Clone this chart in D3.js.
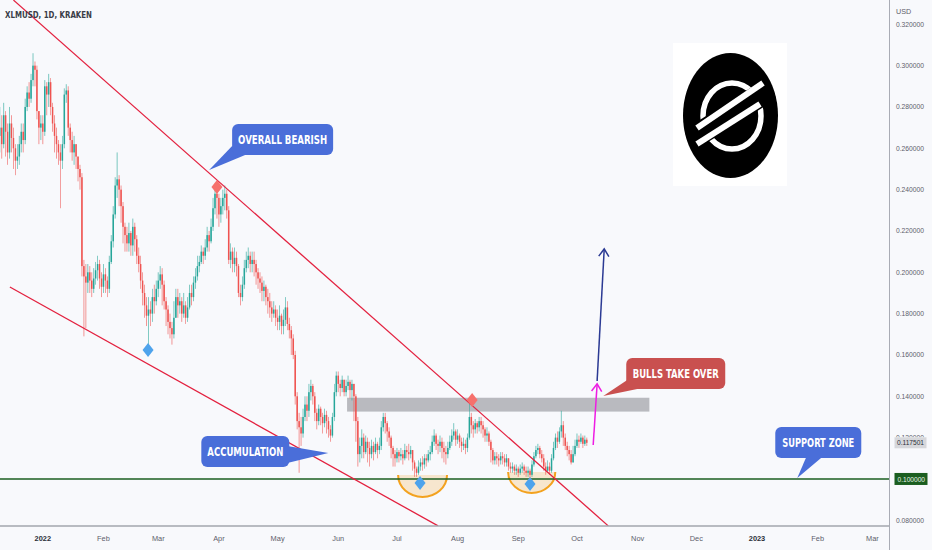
<!DOCTYPE html>
<html><head><meta charset="utf-8">
<script src="https://cdn.jsdelivr.net/npm/d3@7"></script>
<style>html,body{margin:0;padding:0;background:#f8f9fc;overflow:hidden}svg{display:block}</style>
</head><body><svg id="c" width="932" height="550"></svg>
<script>
// ---------- DATA (prices in 1/1000 USD) ----------
const startDate = "2021-12-10";
const firstOpen = 266;
const closeMil = [
270,262,276,268,258,272,265,260,254,256,
262,268,264,280,287,284,293,300,298,278,
270,272,268,290,286,292,280,272,266,262,
258,254,262,286,288,270,264,258,262,256,
250,246,203,198,195,200,196,192,197,201,
204,197,193,199,196,192,205,215,228,242,
245,240,232,222,218,214,219,213,222,216,
208,204,196,190,184,179,182,180,188,186,
192,196,199,194,186,182,176,173,170,178,
188,184,186,180,184,178,183,190,188,195,
198,203,205,210,208,212,218,215,222,231,
238,236,228,232,236,238,230,206,210,204,
207,203,190,188,194,202,206,208,204,206,
204,200,197,195,191,193,188,186,183,180,
182,178,176,179,174,177,183,175,172,168,
160,140,128,125,122,130,136,133,142,145,
140,132,128,134,130,127,131,128,124,121,
130,142,150,146,144,148,142,145,147,143,
146,140,128,112,116,120,113,118,115,112,
116,113,117,114,116,125,130,127,123,120,
115,112,110,113,111,112,110,114,113,112,
114,108,105,103,106,108,107,110,109,112,
113,118,121,117,116,118,115,113,112,115,
118,121,123,119,121,118,116,117,115,120,
130,126,124,127,125,128,126,124,121,122,
118,114,109,111,110,109,111,110,108,110,
106,105,106,104,105,103,105,106,104,103,
104,102,107,111,114,115,112,110,106,104,
106,104,110,115,120,118,123,126,120,116,
114,112,108,112,116,119,118,120,117,119,
117.501];
const highMil = [
280,276,282,278,272,280,276,270,262,262,
266,272,272,284,290,292,296,306,302,300,
278,276,276,293,292,296,294,282,276,270,
264,262,266,289,291,290,272,268,266,262,
256,252,248,206,204,204,203,200,202,205,
208,206,200,204,202,198,208,218,232,246,
258,247,242,234,224,222,224,220,226,224,
218,212,208,200,194,188,188,186,192,194,
196,200,203,202,196,188,184,180,176,186,
192,192,190,188,190,186,188,194,194,198,
202,208,208,213,212,216,222,220,226,236,
242,243,238,236,240,242,240,232,214,212,
212,210,204,194,198,206,210,212,210,210,
210,206,202,200,198,196,194,192,190,186,
186,184,182,184,180,182,188,186,178,174,
170,162,142,132,130,134,140,140,146,148,
146,142,134,136,135,132,134,133,130,126,
132,146,152,152,148,150,148,148,150,148,
148,146,141,130,120,124,122,121,120,118,
119,118,120,118,120,128,132,132,128,125,
121,116,114,115,114,115,114,117,116,117,
116,114,109,106,109,110,111,112,112,114,
116,121,124,122,119,121,120,118,116,118,
121,124,127,124,124,122,120,120,119,122,
137,132,128,129,128,130,130,128,125,125,
123,119,115,113,113,112,113,113,112,112,
110,108,108,107,107,106,107,108,107,106,
106,105,109,113,116,117,116,114,112,108,
109,108,112,118,122,123,125,133,128,122,
118,116,114,116,119,122,121,122,121,121,
120];
const lowMil = [
258,255,260,256,252,255,258,250,247,250,
252,258,258,262,278,280,282,290,290,274,
262,264,262,266,276,280,276,268,258,255,
252,231,250,260,282,266,258,254,252,250,
244,240,198,169,173,190,190,188,190,194,
196,192,188,190,190,188,190,204,212,226,
236,232,224,214,210,210,210,208,208,210,
204,200,192,184,178,174,163,174,176,180,
184,188,192,184,182,174,170,168,165,168,
180,178,180,176,178,175,176,182,184,186,
192,196,200,204,204,206,210,210,214,220,
228,226,222,224,228,230,226,204,202,200,
200,198,188,184,186,192,200,202,200,200,
198,194,192,190,186,186,184,180,178,176,
178,174,172,172,170,170,174,172,168,160,
158,136,124,103,116,120,128,128,130,138,
136,128,124,126,126,122,125,122,120,118,
120,128,140,142,140,142,140,140,143,139,
138,128,118,106,108,110,110,112,108,106,
110,109,112,110,112,114,123,122,118,116,
110,106,106,108,108,109,107,109,110,109,
110,104,101,101,102,104,104,105,106,108,
109,112,116,114,112,113,110,108,107,110,
114,116,119,116,117,115,113,114,112,113,
119,122,120,122,122,123,122,120,118,118,
116,108,107,107,107,106,107,107,106,106,
104,103,103,102,102,101,102,103,102,101,
101,100,101,106,110,112,110,108,104,102,
103,102,103,109,114,115,117,120,116,114,
111,109,107,108,111,115,115,117,115,116,
116];

const priceTicks = [0.08,0.10,0.12,0.14,0.16,0.18,0.20,0.22,0.24,0.26,0.28,0.30,0.32];
const monthTicks = [["2022-01-01","2022"],["2022-02-01","Feb"],["2022-03-01","Mar"],["2022-04-01","Apr"],
  ["2022-05-01","May"],["2022-06-01","Jun"],["2022-07-01","Jul"],["2022-08-01","Aug"],["2022-09-01","Sep"],
  ["2022-10-01","Oct"],["2022-11-01","Nov"],["2022-12-01","Dec"],["2023-01-01","2023"],["2023-02-01","Feb"],["2023-03-01","Mar"]];
const yearLabels = ["2022","2023"];
const trendLines = [
  [["2021-12-17T00:00Z",0.3317],["2022-10-17T00:00Z",0.0773]],
  [["2021-12-15T04:00Z",0.1929],["2022-07-22T00:00Z",0.0773]]
];
const supportPrice = 0.10;
const lastPrice = 0.117501;
const zone = [["2022-06-05T12:00Z",0.1393],["2022-11-07T00:00Z",0.1326]];
const blueMarks = [["2022-02-23T19:00Z",0.1624],["2022-07-12T19:00Z",0.0980],["2022-09-07T00:00Z",0.0976]];
const redMarks = [["2022-03-31T00:00Z",0.2413],["2022-08-08T10:00Z",0.1382]];
const cups = [
  [["2022-07-01T14:00Z",0.1019],["2022-07-26T14:00Z",0.0913]],
  [["2022-08-26T19:00Z",0.1034],["2022-09-19T22:00Z",0.0932]]
];
const arrowsData = [
  {from:["2022-10-09T07:00Z",0.1164], to:["2022-10-11T07:00Z",0.1460], color:"#ee1de3"},
  {from:["2022-10-11T07:00Z",0.1474], to:["2022-10-14T22:00Z",0.2113], color:"#2b3a94"}
];
const callouts = [
  {text:"OVERALL BEARISH", at:["2022-03-27T00:00Z",0.2495], color:"#4a6ed9"},
  {text:"ACCUMULATION", at:["2022-05-26T22:00Z",0.1126], color:"#4a6ed9"},
  {text:"BULLS TAKE OVER", at:["2022-10-14T10:00Z",0.1402], color:"#c9504f"},
  {text:"SUPPORT ZONE", at:["2023-01-21T14:00Z",0.1005], color:"#4a6ed9"}
];

// ---------- CHART ----------
const W = 932, H = 550, plotR = 889, plotB = 526;
const svg = d3.select("#c");
svg.append("rect").attr("width",W).attr("height",H).attr("fill","#f8f9fc");

const x = d3.scaleUtc().domain([new Date("2022-01-01T00:00Z"), new Date("2023-01-01T00:00Z")]).range([42.8, 757]);
const y = d3.scaleLinear().domain([0.08, 0.32]).range([520.3, 24.3]);
const P = d => [x(new Date(d[0])), y(d[1])];

const defs = svg.append("defs");
defs.append("clipPath").attr("id","plot").append("rect").attr("x",0).attr("y",0).attr("width",plotR).attr("height",plotB);
defs.append("clipPath").attr("id","logoClip").append("ellipse").attr("cx",730.5).attr("cy",115.5).attr("rx",47).attr("ry",62);
defs.append("clipPath").attr("id","tickClip").append("rect").attr("x",890).attr("y",0).attr("width",42).attr("height",y(lastPrice)-5.5);
const g = svg.append("g").attr("clip-path","url(#plot)");

// logo
const logo = g.append("g");
logo.append("rect").attr("x",673).attr("y",43).attr("width",114).attr("height",143).attr("fill","#ffffff");
logo.append("ellipse").attr("cx",730.5).attr("cy",115.5).attr("rx",47.5).attr("ry",62.5).attr("fill","#000");
const sym = logo.append("g").attr("clip-path","url(#logoClip)");
sym.append("ellipse").attr("cx",732).attr("cy",116).attr("rx",29).attr("ry",33).attr("fill","none").attr("stroke","#fff").attr("stroke-width",5.5);
sym.append("line").attr("x1",688).attr("y1",141).attr("x2",772).attr("y2",88).attr("stroke","#000").attr("stroke-width",23);
sym.append("line").attr("x1",697).attr("y1",128).attr("x2",763).attr("y2",83).attr("stroke","#fff").attr("stroke-width",6);
sym.append("line").attr("x1",697).attr("y1",144).attr("x2",760).attr("y2",104).attr("stroke","#fff").attr("stroke-width",6);

// resistance zone
g.append("rect")
  .attr("x", x(new Date(zone[0][0]))).attr("y", y(zone[0][1]))
  .attr("width", x(new Date(zone[1][0])) - x(new Date(zone[0][0])))
  .attr("height", y(zone[1][1]) - y(zone[0][1]))
  .attr("fill","#b9babf");

// cups
cups.forEach(c => {
  const [x1, yTop] = P(c[0]); const x2 = x(new Date(c[1][0])); const yBot = y(c[1][1]);
  const rx = (x2-x1)/2, ry = yBot - yTop;
  g.append("path")
    .attr("d", `M${x1},${yTop} A${rx},${ry} 0 0 0 ${x2},${yTop} Z`)
    .attr("fill","rgba(247,196,120,0.35)").attr("stroke","none");
  g.append("path")
    .attr("d", `M${x1},${yTop} A${rx},${ry} 0 0 0 ${x2},${yTop}`)
    .attr("fill","none").attr("stroke","#f3a21f").attr("stroke-width",2);
});

// support line
g.append("line").attr("x1",0).attr("x2",plotR).attr("y1",y(supportPrice)).attr("y2",y(supportPrice))
  .attr("stroke","#1b5e20").attr("stroke-width",1.4);

// candles
const t0 = new Date(startDate + "T00:00Z").getTime();
const candles = closeMil.map((c,i) => {
  const o = i === 0 ? firstOpen : closeMil[i-1];
  return {date: new Date(t0 + i*86400000), o: o/1000, c: c/1000,
          h: Math.max(highMil[i], o, c)/1000, l: Math.min(lowMil[i], o, c)/1000};
});
const cg = g.append("g");
candles.forEach(d => {
  const cx = x(d.date), up = d.c >= d.o, col = up ? "#26a69a" : "#ef5350";
  cg.append("line").attr("x1",cx).attr("x2",cx).attr("y1",y(d.h)).attr("y2",y(d.l))
    .attr("stroke",col).attr("stroke-width",0.7).attr("opacity",0.85);
  const top = y(Math.max(d.o,d.c)), bh = Math.max(0.8, Math.abs(y(d.o)-y(d.c)));
  cg.append("rect").attr("x",cx-0.75).attr("width",1.5).attr("y",top).attr("height",bh).attr("fill",col);
});

// trend lines
trendLines.forEach(l => {
  const a = P(l[0]), b = P(l[1]);
  g.append("line").attr("x1",a[0]).attr("y1",a[1]).attr("x2",b[0]).attr("y2",b[1])
    .attr("stroke","#e3213f").attr("stroke-width",1.3);
});

// diamonds
const diamond = (p, col) => {
  g.append("path").attr("d", `M${p[0]},${p[1]-7} L${p[0]+5.5},${p[1]} L${p[0]},${p[1]+7} L${p[0]-5.5},${p[1]} Z`).attr("fill",col);
};
blueMarks.forEach(m => diamond(P(m), "#4ea3ec"));
redMarks.forEach(m => diamond(P(m), "#f6716c"));

// arrows
arrowsData.forEach(a => {
  const f = P(a.from), t = P(a.to);
  g.append("line").attr("x1",f[0]).attr("y1",f[1]).attr("x2",t[0]).attr("y2",t[1])
    .attr("stroke",a.color).attr("stroke-width",1.5);
  const ang = Math.atan2(t[1]-f[1], t[0]-f[0]);
  const L = 9, s = 0.6;
  const p1 = [t[0] - L*Math.cos(ang - s), t[1] - L*Math.sin(ang - s)];
  const p2 = [t[0] - L*Math.cos(ang + s), t[1] - L*Math.sin(ang + s)];
  g.append("path").attr("d",`M${p1[0]},${p1[1]} L${t[0]},${t[1]} L${p2[0]},${p2[1]}`)
    .attr("fill","none").attr("stroke",a.color).attr("stroke-width",1.5);
});

// callouts (box offset, size, pointer base relative to tip)
const calloutLayout = {
  "OVERALL BEARISH": {dx:23, dy:-46, w:101, h:31, b:[[23,-24],[36,-15]], tl:89},
  "ACCUMULATION":    {dx:-127, dy:-17, w:88, h:31, b:[[-41,-7],[-41,10]], tl:76},
  "BULLS TAKE OVER": {dx:23, dy:-38, w:99, h:31, b:[[24,-16],[34,-7]], tl:86},
  "SUPPORT ZONE":    {dx:-22, dy:-51, w:86, h:31, b:[[9,-21],[25,-21]], tl:72}
};
callouts.forEach(c => {
  const t = P(c.at), L = calloutLayout[c.text];
  const bx = t[0]+L.dx, by = t[1]+L.dy;
  g.append("path").attr("d",`M${t[0]+L.b[0][0]},${t[1]+L.b[0][1]} L${t[0]},${t[1]} L${t[0]+L.b[1][0]},${t[1]+L.b[1][1]} Z`).attr("fill",c.color);
  g.append("rect").attr("x",bx).attr("y",by).attr("width",L.w).attr("height",L.h).attr("rx",6).attr("fill",c.color);
  g.append("text").attr("x",bx+L.w/2).attr("y",by+L.h/2+4.6).attr("text-anchor","middle")
    .attr("font-family","'DejaVu Sans Condensed','DejaVu Sans',sans-serif").attr("font-weight","bold")
    .attr("font-size",12.5).attr("fill","#fff").attr("textLength",L.tl).attr("lengthAdjust","spacingAndGlyphs").text(c.text);
});

// title
svg.append("text").attr("x",5).attr("y",17.5).attr("font-family","'DejaVu Sans Condensed','DejaVu Sans',sans-serif")
  .attr("font-weight","bold").attr("font-size",9).attr("fill","#3a3d47")
  .attr("textLength",87).attr("lengthAdjust","spacingAndGlyphs").text("XLMUSD, 1D, KRAKEN");

// axes lines
svg.append("line").attr("x1",plotR+0.5).attr("x2",plotR+0.5).attr("y1",0).attr("y2",H).attr("stroke","#a9acb5").attr("stroke-width",1);
svg.append("line").attr("x1",0).attr("x2",plotR).attr("y1",plotB).attr("y2",plotB).attr("stroke","#a3a6ae").attr("stroke-width",1.6);

// y axis labels
const yAx = svg.append("g");
priceTicks.forEach(p => {
  const tx = yAx.append("text").attr("x",896).attr("y",y(p)+2.5).attr("font-family","'Liberation Sans',Arial,sans-serif")
    .attr("font-size",7.2).attr("fill","#5d606b").attr("textLength",28).attr("lengthAdjust","spacingAndGlyphs")
    .text(d3.format(".6f")(p));
  if (Math.abs(y(p) - y(lastPrice)) < 10) tx.attr("clip-path","url(#tickClip)");
});
svg.append("rect").attr("x",plotR+1).attr("y",0).attr("width",W-plotR-1).attr("height",21).attr("fill","#f8f9fc");
svg.append("text").attr("x",896).attr("y",14).attr("font-family","'Liberation Sans',Arial,sans-serif")
  .attr("font-size",7.2).attr("fill","#5d606b").text("USD");

// last price label
svg.append("rect").attr("x",894.5).attr("y",y(lastPrice)-5.5).attr("width",32).attr("height",11).attr("fill","#d6d7db");
svg.append("text").attr("x",897).attr("y",y(lastPrice)+2.6).attr("font-family","'Liberation Sans',Arial,sans-serif")
  .attr("font-size",7.2).attr("fill","#2b2e38").attr("textLength",27).attr("lengthAdjust","spacingAndGlyphs").text(d3.format(".6f")(lastPrice));
// support price label
svg.append("rect").attr("x",894.5).attr("y",y(supportPrice)-6).attr("width",33).attr("height",12).attr("fill","#1b5e20");
svg.append("text").attr("x",897.5).attr("y",y(supportPrice)+2.6).attr("font-family","'Liberation Sans',Arial,sans-serif")
  .attr("font-size",7.2).attr("fill","#e8f5e9").attr("textLength",27.5).attr("lengthAdjust","spacingAndGlyphs").text(d3.format(".6f")(supportPrice));

// x axis labels
monthTicks.forEach(m => {
  const yr = yearLabels.includes(m[1]);
  svg.append("text").attr("x",x(new Date(m[0]+"T00:00Z"))).attr("y",540.5).attr("text-anchor","middle")
    .attr("font-family","'Liberation Sans',Arial,sans-serif").attr("font-size",7.4)
    .attr("font-weight", yr ? "bold" : "normal").attr("fill", yr ? "#2b2e38" : "#5d606b").text(m[1]);
});
</script></body></html>
